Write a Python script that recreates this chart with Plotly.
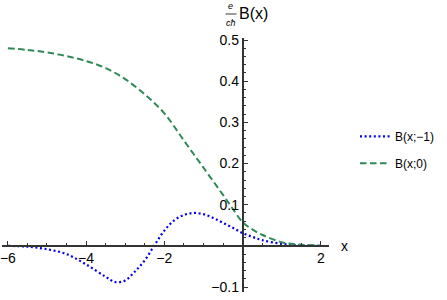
import plotly.graph_objects as go
import numpy as np

# Data
x_green = [-6, -5.5, -5, -4.5, -4, -3.5, -3, -2.5, -2, -1.5, -1, -0.5, -0.25, 0, 0.25, 0.5, 1, 1.5, 2]
y_green = [0.480, 0.476, 0.470, 0.461, 0.449, 0.432, 0.405, 0.368, 0.322, 0.256, 0.190, 0.124, 0.090, 0.058, 0.040, 0.027, 0.009, 0.003, 0.001]

x_blue = [-6, -5.5, -5, -4.5, -4, -3.5, -3.25, -3, -2.75, -2.5, -2.25, -2, -1.75, -1.5, -1.25, -1, -0.75, -0.5, -0.25, 0, 0.25, 0.5, 1, 1.5, 2]
y_blue = [0.0, -0.002, -0.008, -0.020, -0.045, -0.075, -0.088, -0.084, -0.062, -0.035, 0.002, 0.037, 0.062, 0.075, 0.080, 0.077, 0.068, 0.056, 0.044, 0.031, 0.022, 0.014, 0.005, 0.001, 0.0]

name_blue = "B(x;\u22121)"
name_green = "B(x;0)"

x_ticks = [-6, -4, -2, 2]
x_ticktext = ["\u22126", "\u22124", "\u22122", "2"]
y_ticks = [-0.1, 0.1, 0.2, 0.3, 0.4, 0.5]
y_ticktext = ["\u22120.1", "0.1", "0.2", "0.3", "0.4", "0.5"]

x_range = [-6.15, 2.21]
y_range = [-0.112, 0.505]

FONT = "Liberation Sans, Arial, sans-serif"
AX = "#333333"

fig = go.Figure()
fig.add_trace(go.Scatter(x=x_blue, y=y_blue, mode="lines", name=name_blue,
                         line=dict(color="#0000ee", width=2.2, dash="2px,2.6px", shape="spline"),
                         legendgroup="a"))
fig.add_trace(go.Scatter(x=x_green, y=y_green, mode="lines", name=name_green,
                         line=dict(color="#2e8b57", width=2, dash="6.5px,3.5px", shape="spline"),
                         legendgroup="b"))

ypos = (0 - y_range[0]) / (y_range[1] - y_range[0])
xpos = (0 - x_range[0]) / (x_range[1] - x_range[0])

fig.update_layout(
    width=447, height=300,
    margin=dict(l=2, r=118, t=38, b=8, autoexpand=False),
    paper_bgcolor="white", plot_bgcolor="white",
    font=dict(family=FONT, size=14, color="black"),
    xaxis=dict(range=x_range, showgrid=False, zeroline=False, showline=True, linecolor=AX, linewidth=1.6,
               anchor="free", position=ypos, tickmode="array", tickvals=x_ticks, ticktext=x_ticktext,
               ticks="inside", ticklen=4, tickcolor=AX, tickwidth=1, automargin=False,
               ticklabeloverflow="allow",
               minor=dict(tickmode="array", tickvals=list(np.arange(-6, 2.01, 0.5)), ticks="inside",
                          ticklen=2, tickcolor=AX),
               tickfont=dict(size=14, family=FONT)),
    yaxis=dict(range=y_range, showgrid=False, zeroline=False, showline=True, linecolor=AX, linewidth=1.6,
               anchor="free", position=xpos, tickmode="array", tickvals=y_ticks, ticktext=y_ticktext,
               ticks="inside", ticklen=5, tickcolor=AX, tickwidth=1, automargin=False,
               ticklabeloverflow="allow",
               minor=dict(tickmode="array", tickvals=list(np.arange(-0.1, 0.501, 0.02)), ticks="inside",
                          ticklen=3, tickcolor=AX),
               tickfont=dict(size=14, family=FONT)),
    showlegend=True,
    legend=dict(x=1.0795, xanchor="left", y=0.670, yanchor="top", tracegroupgap=8,
                font=dict(size=12, family=FONT), bgcolor="rgba(0,0,0,0)"),
)

# axis labels
fig.add_annotation(x=1.03, xref="paper", y=0, yref="y", text="x", showarrow=False,
                   xanchor="left", yanchor="middle", font=dict(size=14, family=FONT))
fig.add_annotation(x=0, xref="x", xshift=-12, y=1, yref="paper", yshift=32, text="<i>e</i>", showarrow=False,
                   xanchor="center", yanchor="middle", font=dict(size=9, family=FONT))
fig.add_annotation(x=0, xref="x", xshift=-12, y=1, yref="paper", yshift=15, text="<i>c\u0127</i>", showarrow=False,
                   xanchor="center", yanchor="middle", font=dict(size=9, family=FONT))
fig.add_shape(type="line", xref="x", yref="paper", xsizemode="pixel", ysizemode="pixel",
              xanchor=0, yanchor=1, x0=-17, x1=-6, y0=24, y1=24,
              line=dict(color="black", width=0.8))
fig.add_annotation(x=0, xref="x", xshift=-6, y=1, yref="paper", yshift=25, text="B(x)", showarrow=False,
                   xanchor="left", yanchor="middle", font=dict(size=16, family=FONT))

fig.write_html("out.html", config={"displayModeBar": False},
               post_script="document.body.style.margin='0';")
